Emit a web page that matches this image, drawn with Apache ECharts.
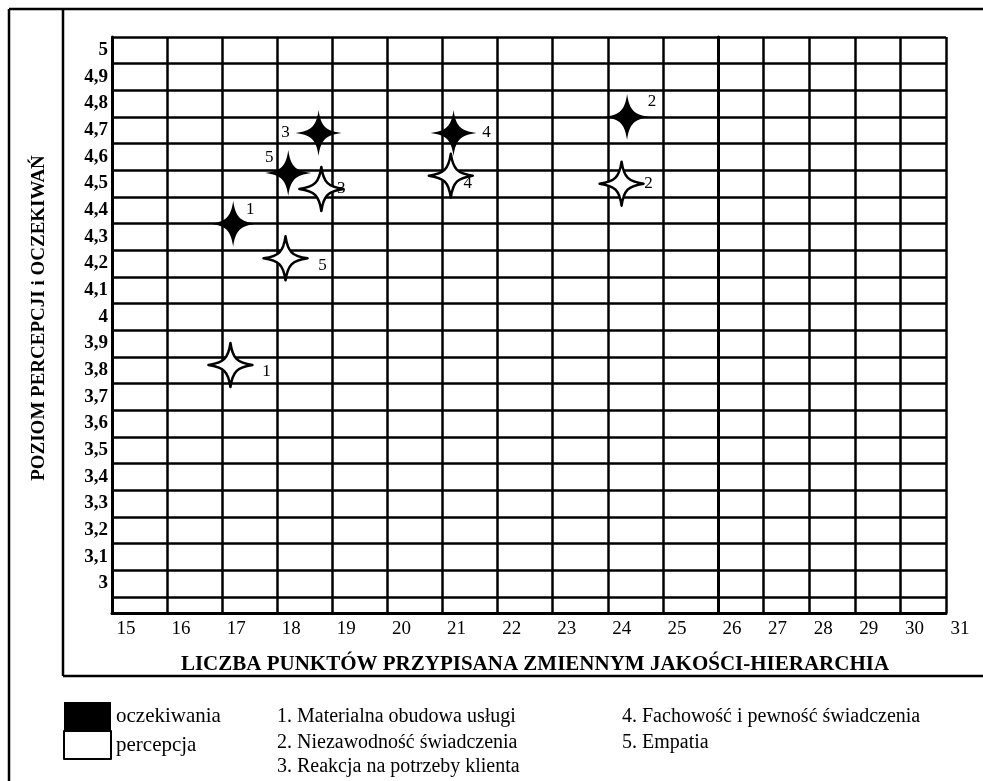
<!DOCTYPE html>
<html>
<head>
<meta charset="utf-8">
<script src="https://cdn.jsdelivr.net/npm/echarts@6/dist/echarts.min.js"></script>
<style>
html, body { margin: 0; padding: 0; background: #fff; }
#main { width: 983px; height: 781px; }
</style>
</head>
<body>
<div id="main"></div>
<script>
// dane
var zmienne = ['1. Materialna obudowa usługi', '2. Niezawodność świadczenia', '3. Reakcja na potrzeby klienta',
    '4. Fachowość i pewność świadczenia', '5. Empatia'];
var numery = ['1', '2', '3', '4', '5'];
var oczekiwaniaX = [17, 24.15, 18.55, 21, 18];
var oczekiwaniaY = [4.35, 4.75, 4.69, 4.69, 4.54];
var percepcjaX = [16.95, 24.05, 18.6, 20.95, 17.95];
var percepcjaY = [3.82, 4.5, 4.48, 4.53, 4.22];
var xLabels = ['15', '16', '17', '18', '19', '20', '21', '22', '23', '24', '25', '26', '27', '28', '29', '30', '31'];
var yLabels = ['3', '3,1', '3,2', '3,3', '3,4', '3,5', '3,6', '3,7', '3,8', '3,9', '4',
    '4,1', '4,2', '4,3', '4,4', '4,5', '4,6', '4,7', '4,8', '4,9', '5'];

// przesunięcia numerów przy gwiazdkach
var offOcz = [[17, -14], [25, -15], [-33, 0], [33, 0], [-19, -15]];
var offPer = [[36, 7], [27, 0], [20, 0], [17, 8], [37, 7]];

var serif = 'Liberation Serif';
var star = 'path://M0,-20 C2,-6 6,-2 20,0 C6,2 2,6 0,20 C-2,6 -6,2 -20,0 C-6,-2 -2,-6 0,-20 Z';

function punkty(xs, ys, offs) {
    return xs.map(function (x, i) {
        return {
            value: [x, ys[i]],
            label: { offset: offs[i], formatter: numery[i] }
        };
    });
}

var myChart = echarts.init(document.getElementById('main'));

var gridTop = 37, gridH = 576;

function osY(grid, labels) {
    return {
        type: 'value',
        gridIndex: grid,
        min: 2.84,
        max: 5.0,
        splitNumber: 22,
        axisLine: { show: true, lineStyle: { color: '#000', width: 3 } },
        axisTick: { show: false },
        splitLine: { show: true, lineStyle: { color: '#000', width: 2.5 } },
        axisLabel: {
            show: labels,
            margin: 4,
            verticalAlign: 'top',
            lineHeight: 26,
            hideOverlap: false,
            showMinLabel: true,
            showMaxLabel: true,
            fontFamily: serif,
            fontWeight: 'bold',
            fontSize: 19,
            color: '#000',
            formatter: function (v) {
                var l = yLabels[Math.round((v - 3) * 10)];
                return l || '';
            }
        }
    };
}

function osX(grid, min, max) {
    return {
        type: 'value',
        gridIndex: grid,
        min: min,
        max: max,
        interval: 1,
        axisLine: { show: true, onZero: false, lineStyle: { color: '#000', width: 3 } },
        axisTick: { show: false },
        splitLine: { show: true, lineStyle: { color: '#000', width: 2.5 } },
        axisLabel: {
            margin: 7,
            padding: [0, 0, 0, 28],
            showMinLabel: true,
            showMaxLabel: true,
            fontFamily: serif,
            fontSize: 19,
            color: '#000',
            formatter: function (v) {
                return xLabels[Math.round(v - 15)];
            }
        }
    };
}

var xA = osX(0, 15, 26);
xA.axisLabel.showMaxLabel = false;

option = {
    animation: false,
    grid: [
        { left: 112, top: gridTop, width: 606, height: gridH },
        { left: 718, top: gridTop, width: 228, height: gridH }
    ],
    xAxis: [
        xA,
        { type: 'value', gridIndex: 0, min: 14.8, max: 25.8, show: false },
        osX(1, 26, 31)
    ],
    yAxis: [
        osY(0, true),
        { type: 'value', gridIndex: 0, min: 2.89, max: 5.05, show: false },
        osY(1, false)
    ],
    legend: {
        orient: 'vertical',
        left: 63,
        top: 702,
        padding: 0,
        icon: 'rect',
        itemWidth: 47,
        itemHeight: 28,
        itemGap: 0,
        selectedMode: false,
        data: ['oczekiwania', 'percepcja'],
        textStyle: { fontFamily: serif, fontSize: 21, color: '#000' }
    },
    series: [
        {
            name: 'oczekiwania',
            type: 'scatter',
            xAxisIndex: 1,
            yAxisIndex: 1,
            symbol: star,
            symbolSize: 46,
            itemStyle: { color: '#000', opacity: 1 },
            label: { show: true, position: 'inside', fontFamily: serif, fontSize: 17, color: '#000' },
            data: punkty(oczekiwaniaX, oczekiwaniaY, offOcz)
        },
        {
            name: 'percepcja',
            type: 'scatter',
            xAxisIndex: 1,
            yAxisIndex: 1,
            symbol: star,
            symbolSize: 44,
            itemStyle: { color: '#fff', borderColor: '#000', borderWidth: 2.5, borderJoin: 'round', opacity: 1 },
            label: { show: true, position: 'inside', fontFamily: serif, fontSize: 17, color: '#000' },
            data: punkty(percepcjaX, percepcjaY, offPer)
        }
    ],
    graphic: [
        // ramki
        { type: 'line', shape: { x1: 9, y1: 9, x2: 983, y2: 9 }, style: { stroke: '#000', lineWidth: 2.5 } },
        { type: 'line', shape: { x1: 9, y1: 9, x2: 9, y2: 781 }, style: { stroke: '#000', lineWidth: 2.5 } },
        { type: 'line', shape: { x1: 63, y1: 9, x2: 63, y2: 676 }, style: { stroke: '#000', lineWidth: 2.5 } },
        { type: 'line', shape: { x1: 63, y1: 676, x2: 983, y2: 676 }, style: { stroke: '#000', lineWidth: 2.5 } },
        {
            type: 'text', x: 39, y: 318, rotation: Math.PI / 2,
            style: { text: 'POZIOM PERCEPCJI i OCZEKIWAŃ', font: 'bold 19px "Liberation Serif"', fill: '#000', align: 'center', verticalAlign: 'middle' }
        },
        {
            type: 'text', x: 535, y: 665,
            style: { text: 'LICZBA PUNKTÓW PRZYPISANA ZMIENNYM JAKOŚCI-HIERARCHIA', font: 'bold 21px "Liberation Serif"', fill: '#000', align: 'center', verticalAlign: 'middle' }
        },
        { type: 'text', x: 277, y: 717, style: { text: zmienne[0], font: '20px "Liberation Serif"', fill: '#000', verticalAlign: 'middle' } },
        { type: 'text', x: 277, y: 743, style: { text: zmienne[1], font: '20px "Liberation Serif"', fill: '#000', verticalAlign: 'middle' } },
        { type: 'text', x: 277, y: 767, style: { text: zmienne[2], font: '20px "Liberation Serif"', fill: '#000', verticalAlign: 'middle' } },
        { type: 'text', x: 622, y: 717, style: { text: zmienne[3], font: '20px "Liberation Serif"', fill: '#000', verticalAlign: 'middle' } },
        { type: 'text', x: 622, y: 743, style: { text: zmienne[4], font: '20px "Liberation Serif"', fill: '#000', verticalAlign: 'middle' } }
    ]
};

myChart.setOption(option);
</script>
</body>
</html>
